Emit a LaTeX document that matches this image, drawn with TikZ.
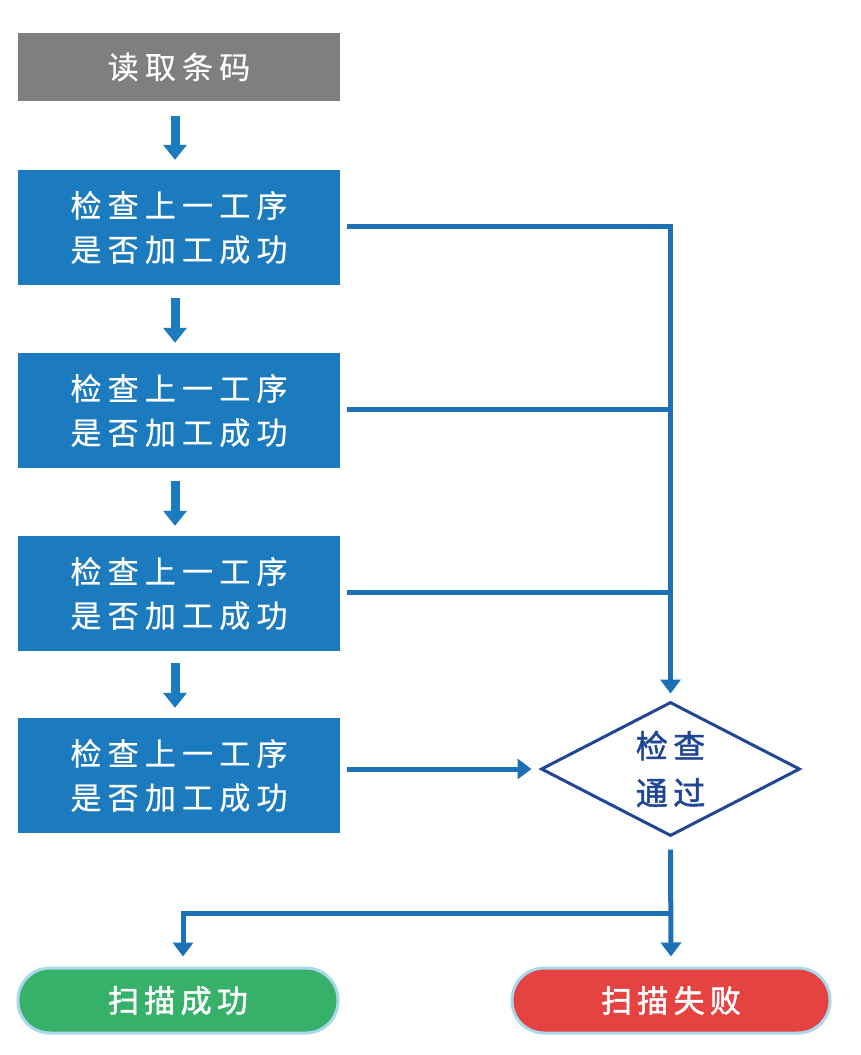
\documentclass[tikz,border=0pt]{standalone}
\usepackage{fontspec}
\usetikzlibrary{arrows.meta,shapes.geometric,positioning}
\newfontfamily\cjk[LetterSpace=20,FakeBold=0.4]{Noto Sans CJK SC}
\newfontfamily\cjkb[LetterSpace=17,FakeBold=1.6]{Noto Sans CJK SC}
\definecolor{boxblue}{HTML}{1B7BBE}
\definecolor{boxgray}{HTML}{7F7F7F}
\definecolor{lineblue}{HTML}{1C70B6}
\definecolor{dblue}{HTML}{1F4795}
\definecolor{okgreen}{HTML}{37B06A}
\definecolor{failred}{HTML}{E54242}
\definecolor{pilledge}{HTML}{A9D8EC}
\tikzset{
  procbox/.style={rectangle, fill=boxblue, minimum width=322pt, minimum height=115pt, inner sep=0pt, text=white, align=center, font=\cjk\fontsize{31pt}{44pt}\selectfont},
  startbox/.style={rectangle, fill=boxgray, minimum width=322pt, minimum height=68pt, inner sep=0pt, text=white, font=\cjk\fontsize{31pt}{44pt}\selectfont},
  decision/.style={diamond, draw=dblue, line width=3pt, fill=white, minimum width=259pt, minimum height=134pt, inner sep=0pt},
  decisiontext/.style={inner sep=0pt, text=dblue, align=center, font=\cjkb\fontsize{32pt}{47pt}\selectfont},
  pill/.style={rectangle, rounded corners=32pt, draw=pilledge, line width=3pt, minimum height=65pt, inner sep=0pt, text=white, font=\cjkb\fontsize{31pt}{44pt}\selectfont},
  blockarrow/.style={draw=boxblue, line width=9pt, -{Triangle[width=23pt,length=15pt]}},
  conn/.style={draw=lineblue, line width=5pt},
  connarrow/.style={conn, -{Triangle[width=20pt,length=14pt]}},
}
\begin{document}
\begin{tikzpicture}[x=1pt,y=-1pt]
\fill[white] (0,0) rectangle (860,1055);
\useasboundingbox (0,0) rectangle (860,1055);
\node[startbox] (g) at (179,67) {读取条码};
\node[procbox] (b1) at (179,227.5) {检查上一工序\\是否加工成功};
\node[procbox] (b2) at (179,410.5) {检查上一工序\\是否加工成功};
\node[procbox] (b3) at (179,593.5) {检查上一工序\\是否加工成功};
\node[procbox] (b4) at (179,775.5) {检查上一工序\\是否加工成功};
\node[decision] (d) at (670.5,769) {};
\node[decisiontext] (dt) at (d.center) {检查\\通过};
\node[pill, fill=okgreen, minimum width=320pt] (ok) at (178,1000.5) {扫描成功};
\node[pill, fill=failred, minimum width=318pt] (fail) at (671,1000.5) {扫描失败};
% block arrows
\draw[blockarrow] ([xshift=-4pt,yshift=-15pt]g.south) -- ([xshift=-4pt,yshift=10pt]b1.north);
\draw[blockarrow] ([xshift=-4pt,yshift=-13pt]b1.south) -- ([xshift=-4pt,yshift=10pt]b2.north);
\draw[blockarrow] ([xshift=-4pt,yshift=-13pt]b2.south) -- ([xshift=-4pt,yshift=10pt]b3.north);
\draw[blockarrow] ([xshift=-4pt,yshift=-12pt]b3.south) -- ([xshift=-4pt,yshift=10pt]b4.north);
% connectors to decision
\draw[connarrow] ([xshift=7pt,yshift=1.5pt]b1.east) -| ([yshift=7pt]d.north);
\draw[conn] ([xshift=7pt,yshift=1.5pt]b2.east) -- ([yshift=1.5pt]b2.east -| d.north);
\draw[conn] ([xshift=7pt,yshift=1.5pt]b3.east) -- ([yshift=1.5pt]b3.east -| d.north);
\draw[connarrow] ([xshift=7pt]b4.east |- d.west) -- ([xshift=-8pt]d.west);
% from decision
\coordinate (j) at (670.5,913);
\draw[connarrow] ([yshift=-12pt]d.south) -- ([yshift=10pt]fail.north);
\draw[connarrow] (j) -| ([xshift=5pt,yshift=10pt]ok.north);
\end{tikzpicture}
\end{document}
